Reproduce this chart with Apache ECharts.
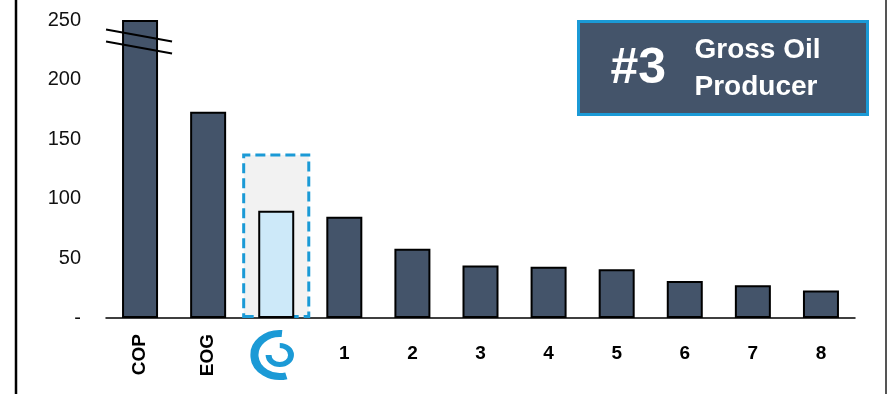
<!DOCTYPE html>
<html>
<head>
<meta charset="utf-8">
<script src="https://cdn.jsdelivr.net/npm/echarts@6/dist/echarts.min.js"></script>
<style>
html,body{margin:0;padding:0;background:#fff;}
#chart{width:887px;height:394px;}
</style>
</head>
<body>
<div id="chart"></div>
<script>
// ---- data ----
const categories = ['COP', 'EOG', 'LOGO', '1', '2', '3', '4', '5', '6', '7', '8'];
const values = [250, 173, 90, 85, 58, 44, 43, 41, 31, 27.5, 23];
const highlightIndex = 2;
const highlightBox = [null, null, 138, null, null, null, null, null, null, null, null];
const yTicks = [0, 50, 100, 150, 200, 250];
const breakValues = [237, 227];
const badgeRank = '#3';
const badgeLines = ['Gross Oil', 'Producer'];

// ---- style ----
const FONT = '"Liberation Sans", Arial, sans-serif';
const BAR = '#44546a';
const BLUE = '#1b9ad6';
const logoSvg = '<svg xmlns="http://www.w3.org/2000/svg" width="44" height="58" viewBox="0 0 44 58">' +
  '<path d="M26.87 7.58 A21.5 21.5 0 1 0 30.56 49.77" fill="none" stroke="' + BLUE + '" stroke-width="7"/>' +
  '<path d="M15.5 29 A9.5 9.5 0 1 0 25 19.5" fill="none" stroke="' + BLUE + '" stroke-width="5"/>' +
  '</svg>';
const logoUri = 'data:image/svg+xml;charset=utf-8,' + encodeURIComponent(logoSvg);

const chart = echarts.init(document.getElementById('chart'), null, {renderer: 'canvas'});

const baseX = {
  type: 'category',
  data: categories,
  position: 'bottom',
  axisTick: {show: false},
  splitLine: {show: false}
};

const option = {
  animation: false,
  backgroundColor: '#fff',
  grid: {left: 106, right: 32, top: 20, bottom: 76, outerBoundsMode: 'none', containLabel: false},
  xAxis: [
    Object.assign({}, baseX, {
      axisLine: {show: true, lineStyle: {color: '#000', width: 1.5}},
      axisLabel: {
        interval: 0, margin: 26,
        fontFamily: FONT, fontSize: 19, fontWeight: 'bold', color: '#000',
        formatter: v => (/^\d+$/.test(v) ? v : '')
      }
    }),
    Object.assign({}, baseX, {
      axisLine: {show: false},
      axisLabel: {
        interval: 0, margin: 16, rotate: 90,
        fontFamily: FONT, fontSize: 19, fontWeight: 'bold', color: '#000',
        formatter: v => (v === 'COP' || v === 'EOG' ? v : '')
      }
    }),
    Object.assign({}, baseX, {
      axisLine: {show: false},
      axisLabel: {
        interval: 0, margin: 8,
        formatter: v => (v === 'LOGO' ? '{logo|}' : ''),
        rich: {logo: {width: 44, height: 58, padding: [0, 8, 0, 0], backgroundColor: {image: logoUri}}}
      }
    })
  ],
  yAxis: {
    type: 'value',
    min: 0, max: 250, interval: 50,
    axisLine: {show: false},
    axisTick: {show: false},
    splitLine: {show: false},
    axisLabel: {
      margin: 25, fontFamily: FONT, fontSize: 20, color: '#111',
      formatter: v => (v === 0 ? '-' : String(v))
    }
  },
  series: [
    {
      type: 'bar',
      xAxisIndex: 1,
      data: highlightBox,
      barWidth: '100%',
      z: 1,
      itemStyle: {color: '#f2f2f2', borderColor: BLUE, borderWidth: 3, borderType: [10, 5]},
      silent: true
    },
    {
      type: 'bar',
      xAxisIndex: 0,
      data: values.map((v, i) => i === highlightIndex
        ? {value: v, itemStyle: {color: '#cde9f9'}}
        : v),
      barWidth: 36,
      z: 3,
      itemStyle: {color: BAR, borderColor: '#000', borderWidth: 2}
    }
  ],
  graphic: [
    {type: 'line', z: 100, shape: {x1: 16, y1: 0, x2: 16, y2: 394}, style: {stroke: '#000', lineWidth: 2.5}},
    {type: 'line', z: 100, shape: {x1: 886, y1: 0, x2: 886, y2: 394}, style: {stroke: '#555', lineWidth: 2}},
    {
      type: 'group', left: 577, top: 20, z: 100,
      children: [
        {type: 'rect', shape: {x: 0, y: 0, width: 289, height: 93}, style: {fill: BAR, stroke: BLUE, lineWidth: 3}},
        {type: 'text', x: 32, y: 48, style: {text: badgeRank, fill: '#fff', font: 'bold 50px ' + FONT, verticalAlign: 'middle'}},
        {type: 'text', x: 116, y: 29, style: {text: badgeLines[0], fill: '#fff', font: 'bold 28px ' + FONT, verticalAlign: 'middle'}},
        {type: 'text', x: 116, y: 66, style: {text: badgeLines[1], fill: '#fff', font: 'bold 28px ' + FONT, verticalAlign: 'middle'}}
      ]
    }
  ]
};
chart.setOption(option);

// break marks across the COP bar, positioned through the chart scales
const breaks = breakValues.map((bv, i) => {
  const p = chart.convertToPixel({xAxisIndex: 0, yAxisIndex: 0}, [categories[0], bv]);
  return {
    type: 'line', z: 50,
    shape: {x1: p[0] - 34, y1: p[1] - 6, x2: p[0] + 32, y2: p[1] + 6},
    style: {stroke: '#000', lineWidth: 2}
  };
});
chart.setOption({graphic: option.graphic.concat(breaks)});
</script>
</body>
</html>
